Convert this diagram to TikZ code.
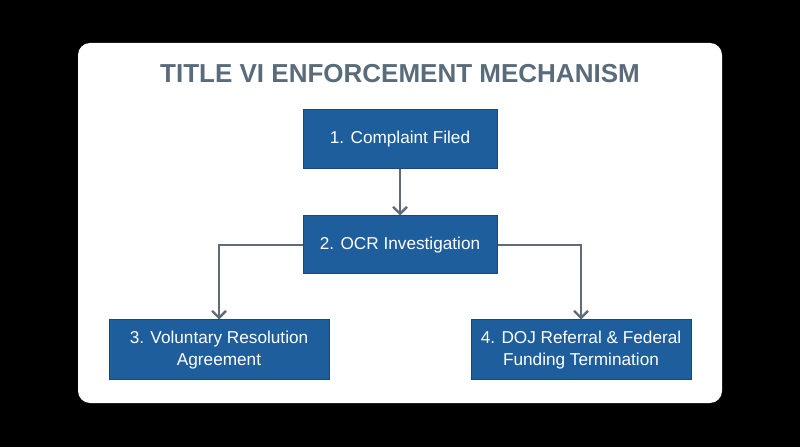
\documentclass[tikz,border=0pt]{standalone}
\usepackage{fontspec}
\setmainfont{Liberation Sans}
\usetikzlibrary{arrows.meta}
\definecolor{boxblue}{HTML}{1E5E9C}
\definecolor{boxedge}{HTML}{174A7C}
\definecolor{titlegray}{HTML}{5A6B7A}
\definecolor{arrowgray}{HTML}{5F6B75}
\tikzset{
  stepbox/.style={fill=boxblue,draw=boxedge,line width=1pt,text=white,align=center,font=\fontsize{17.2}{22}\selectfont,inner sep=0pt},
  conn/.style={draw=arrowgray,line width=2.8pt,-{Straight Barb[length=7pt,width=14pt,line width=2.4pt]}}
}
\begin{document}
\begin{tikzpicture}[x=1pt,y=1pt]
\fill[black] (0,0) rectangle (800,447);
\useasboundingbox (0,0) rectangle (800,447);
\fill[white,rounded corners=12pt] (78,44) rectangle (722,404);
\node[text=titlegray,font=\bfseries\fontsize{26}{30}\selectfont] (title) at (400,373) {TITLE VI ENFORCEMENT MECHANISM};
\node[stepbox,minimum width=194pt,minimum height=59pt] (s1) at (400,307.5) {1. Complaint Filed};
\node[stepbox,minimum width=194pt,minimum height=58pt] (s2) at (400,202) {2. OCR Investigation};
\node[stepbox,minimum width=220pt,minimum height=60pt] (s3) at (219,97) {3. Voluntary Resolution\\Agreement};
\node[stepbox,minimum width=220pt,minimum height=60pt] (s4) at (581,97) {4. DOJ Referral \& Federal\\Funding Termination};
\draw[conn] (s1.south) -- (s2.north);
\draw[conn] (s2.west) -| (s3.north);
\draw[conn] (s2.east) -| (s4.north);
\end{tikzpicture}
\end{document}
